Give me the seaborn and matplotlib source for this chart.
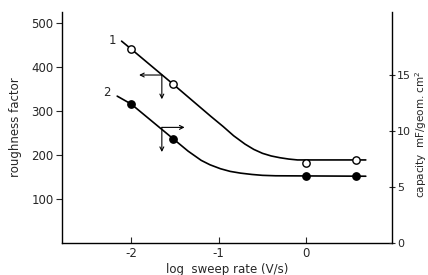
import matplotlib
matplotlib.use("Agg")
from matplotlib import pyplot as plt
import seaborn as sns

# measured points (log sweep rate, roughness factor)
pt_x = [-2.0, -1.52, 0.0, 0.57]
open_y = [441, 361, 182, 190]
filled_y = [316, 237, 152, 152]

# drawn curves
c1_x = [-2.11, -2.0, -1.52, -1.09, -0.95, -0.83, -0.7, -0.6, -0.5, -0.4, -0.3, -0.2, -0.1, 0.68]
c1_y = [459, 441, 361, 288, 265, 244, 225, 213, 204, 198, 194, 191, 189, 189]
c2_x = [-2.16, -2.0, -1.52, -1.35, -1.2, -1.1, -0.98, -0.87, -0.75, -0.62, -0.5, -0.35, 0.68]
c2_y = [334, 316, 237, 209, 188, 178, 169, 163, 159, 156, 154, 153, 152]

# arrows: vertex, end of horizontal arrow, end of vertical arrow
arr_x = [-1.65, -1.65]
arr_y = [382, 263]
arr_hx = [-1.91, -1.39]
arr_vy = [327, 207]

sns.set_style("ticks")
plt.rcParams['font.family'] = ['DejaVu Sans']

fig = plt.figure(figsize=(4.28, 2.75), dpi=100)
ax = fig.add_axes([0.145, 0.116, 0.771, 0.84])

sns.lineplot(x=c1_x, y=c1_y, sort=False, color='black', lw=1.2, ax=ax)
sns.lineplot(x=c2_x, y=c2_y, sort=False, color='black', lw=1.2, ax=ax)
sns.scatterplot(x=pt_x, y=open_y, marker='o', s=28, facecolor='white',
                edgecolor='black', linewidth=1, zorder=3, ax=ax)
sns.scatterplot(x=pt_x, y=filled_y, marker='o', s=28, color='black',
                edgecolor='black', linewidth=1, zorder=3, ax=ax)

for vx, vy, hx, dy in zip(arr_x, arr_y, arr_hx, arr_vy):
    ax.annotate('', xy=(hx, vy), xytext=(vx, vy),
                arrowprops=dict(arrowstyle='->', color='black', lw=0.8,
                                shrinkA=0, shrinkB=0, mutation_scale=7))
    ax.annotate('', xy=(vx, dy), xytext=(vx, vy),
                arrowprops=dict(arrowstyle='->', color='black', lw=0.8,
                                shrinkA=0, shrinkB=0, mutation_scale=7))

ax.text(-2.22, 461, '1', fontsize=8.5, ha='center', va='center')
ax.text(-2.28, 343, '2', fontsize=8.5, ha='center', va='center')

ax.set_xlim(-2.79, 0.98)
ax.set_ylim(0, 525)
ax.set_xticks([-2, -1, 0])
ax.set_xticklabels(['-2', '-1', '0'])
ax.set_yticks([100, 200, 300, 400, 500])
ax.tick_params(axis='x', direction='in', length=4, labelsize=8.5, pad=3)
ax.tick_params(axis='y', direction='out', length=4, labelsize=8.5, pad=2)
ax.set_xlabel('log  sweep rate (V/s)', fontsize=8.5, labelpad=2)
ax.set_ylabel('roughness factor', fontsize=8.5)
ax.yaxis.set_label_coords(-0.12, 0.5)
ax.spines['top'].set_visible(False)
ax.spines['right'].set_visible(False)

ax2 = ax.twinx()
ax2.set_ylim(0, 20.6)
ax2.set_yticks([0, 5, 10, 15])
ax2.tick_params(axis='y', direction='inout', length=5, labelsize=8, pad=1)
ax2.set_ylabel('capacity  mF/geom. cm$^2$', fontsize=7.5, rotation=90)
ax2.yaxis.set_label_coords(1.064, 0.47)
ax2.spines['top'].set_visible(False)
ax2.spines['left'].set_visible(False)
ax2.spines['bottom'].set_visible(False)
for a in (ax, ax2):
    for s in a.spines.values():
        s.set_linewidth(1)
        s.set_color('black')

fig.savefig('out.png', dpi=100)
